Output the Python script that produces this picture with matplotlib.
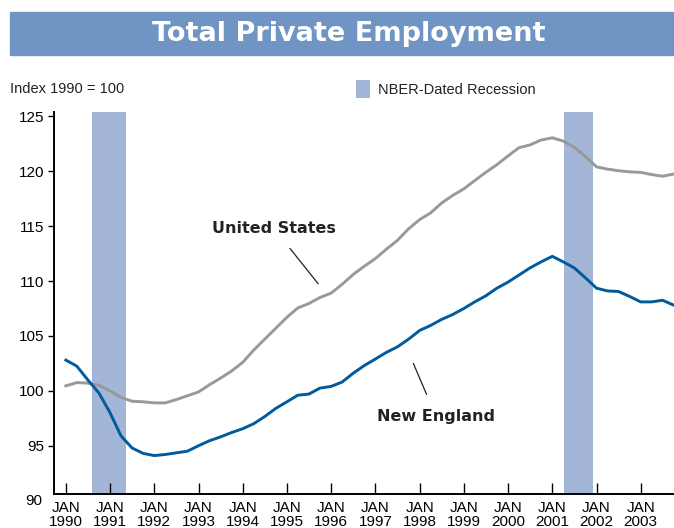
import pandas as pd
import matplotlib
matplotlib.use('Agg')
import matplotlib.pyplot as plt
from matplotlib.patches import Rectangle, Patch

# Indice 1990 = 100, pontos trimestrais (jan, abr, jul, out)
datas = pd.date_range(start='1990-01-01', periods=56, freq='QS')

estados_unidos = [
    100.45, 100.75, 100.7, 100.5, 100.0, 99.4, 99.05, 99.0,
    98.9, 98.9, 99.2, 99.55, 99.9, 100.55, 101.15, 101.8,
    102.6, 103.7, 104.7, 105.7, 106.7, 107.55, 107.95, 108.5,
    108.9, 109.7, 110.6, 111.35, 112.05, 112.9, 113.7, 114.75,
    115.6, 116.2, 117.1, 117.8, 118.4, 119.15, 119.9, 120.6,
    121.4, 122.15, 122.4, 122.85, 123.05, 122.75, 122.2, 121.35,
    120.4, 120.2, 120.05, 119.95, 119.9, 119.7, 119.55, 119.75,
]

nova_inglaterra = [
    102.8, 102.25, 101.0, 99.8, 98.0, 95.9, 94.8, 94.3,
    94.1, 94.2, 94.35, 94.5, 95.0, 95.45, 95.8, 96.2,
    96.55, 97.0, 97.65, 98.4, 99.0, 99.6, 99.7, 100.25,
    100.4, 100.8, 101.6, 102.3, 102.9, 103.5, 104.0, 104.7,
    105.5, 105.95, 106.5, 106.95, 107.5, 108.1, 108.65, 109.35,
    109.9, 110.55, 111.2, 111.75, 112.25, 111.75, 111.2, 110.3,
    109.35, 109.1, 109.05, 108.6, 108.1, 108.1, 108.25, 107.8,
]

# Recessoes NBER
recessao_inicio = ['1990-08-01', '2001-04-08']
recessao_fim = ['1991-05-10', '2001-12-01']

anos = list(range(1990, 2004))
rotulos_x = ['JAN\n%d' % a for a in anos]
rotulos_y = [95, 100, 105, 110, 115, 120, 125]

fonte_eixo = ['Liberation Sans Narrow', 'Liberation Sans', 'DejaVu Sans']
fonte = ['Liberation Sans', 'DejaVu Sans']
fonte_negrito = ['DejaVu Sans']

fig = plt.figure(figsize=(6.74, 5.28), dpi=100)
ax = fig.add_axes([54 / 674, 34 / 528, 620 / 674, 382 / 528])

# Faixa do titulo
fig.patches.append(Rectangle((10 / 674, 473 / 528), 664 / 674, 43 / 528,
                             transform=fig.transFigure, color='#7094C3', zorder=0))
fig.text(349 / 674, 494 / 528, 'Total Private Employment', color='white',
         fontsize=19.5, fontweight='bold', family=fonte_negrito, ha='center', va='center')

fig.text(10 / 674, 439 / 528, 'Index 1990 = 100', fontsize=10.5,
         family=fonte, ha='left', va='center', color='#222222')

for ini, fim in zip(recessao_inicio, recessao_fim):
    ax.axvspan(pd.Timestamp(ini), pd.Timestamp(fim), color='#A3B6D8', lw=0, zorder=1)

ax.plot(datas, estados_unidos, color='#999999', lw=2.1, zorder=3)
ax.plot(datas, nova_inglaterra, color='#005A9C', lw=2.1, zorder=3)

# Legenda da recessao
leg = fig.legend(handles=[Patch(facecolor='#A3B6D8', edgecolor='none', label='NBER-Dated Recession')],
                 loc='center left', bbox_to_anchor=(343 / 674, 439 / 528), frameon=False,
                 handlelength=0.95, handleheight=1.6, handletextpad=0.55,
                 prop={'family': fonte, 'size': 10.5})
for t in leg.get_texts():
    t.set_color('#222222')

# Rotulos das series
ax.annotate('United States', xy=(pd.Timestamp('1995-09-16'), 109.75),
            xytext=(pd.Timestamp('1994-09-16'), 114.8),
            fontsize=11.5, fontweight='bold', family=fonte_negrito, color='#222222',
            ha='center', va='center',
            arrowprops=dict(arrowstyle='-', color='#222222', lw=0.9,
                            shrinkA=9, shrinkB=0))
ax.annotate('New England', xy=(pd.Timestamp('1997-11-10'), 102.5),
            xytext=(pd.Timestamp('1998-05-15'), 97.7),
            fontsize=11.5, fontweight='bold', family=fonte_negrito, color='#222222',
            ha='center', va='center',
            arrowprops=dict(arrowstyle='-', color='#222222', lw=0.9,
                            shrinkA=9, shrinkB=0))

ax.set_xlim(pd.Timestamp('1989-09-25'), pd.Timestamp('2003-10-03'))
ax.set_ylim(90.6, 125.4)

ax.set_xticks([pd.Timestamp('%d-01-01' % a) for a in anos])
ax.set_xticklabels(rotulos_x, family=fonte_eixo, fontsize=11, linespacing=1.05)
ax.set_yticks(rotulos_y)
ax.set_yticklabels([str(v) for v in rotulos_y], family=fonte_eixo, fontsize=11)
ax.text(-0.019, 90, '90', transform=ax.get_yaxis_transform(), ha='right', va='center',
        family=fonte_eixo, fontsize=11, clip_on=False)

ax.tick_params(axis='x', direction='in', length=8, width=1, pad=5)
ax.tick_params(axis='y', direction='out', length=4, width=1, pad=3)

for lado in ['top', 'right']:
    ax.spines[lado].set_visible(False)
for lado in ['left', 'bottom']:
    ax.spines[lado].set_linewidth(1.4)

fig.savefig('out.png', dpi=100)
